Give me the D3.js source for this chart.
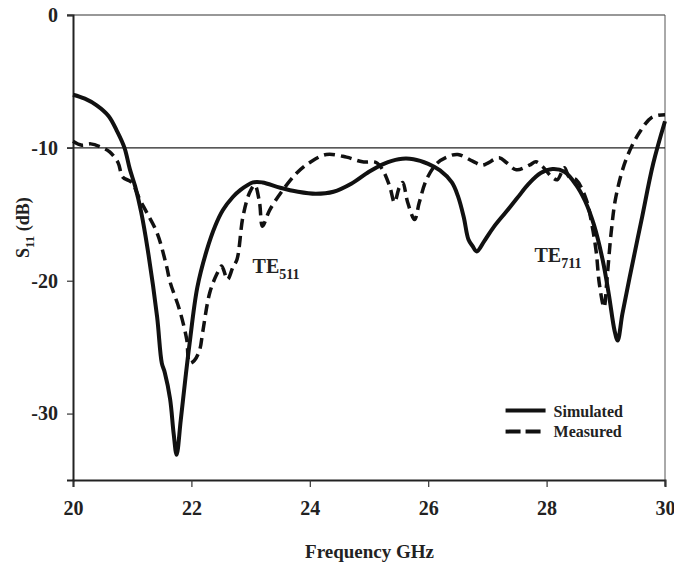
<!DOCTYPE html>
<html>
<head>
<meta charset="utf-8">
<script src="https://cdn.jsdelivr.net/npm/d3@7"></script>
<style>
  body { margin: 0; background: #fff; }
  text { font-family: "Liberation Serif", "Times New Roman", serif; font-weight: bold; fill: #222; }
</style>
</head>
<body>
<div id="chart-area"></div>
<script>
// S11 vs frequency, simulated and measured

const svgWidth = 674;
const svgHeight = 567;
var margin = {left: 73, right: 8, top: 15, bottom: 87};

var chartWidth = svgWidth - margin.left - margin.right,
    chartHeight = svgHeight - margin.top - margin.bottom;

// data (GHz, dB)
var simFreq = [20.0, 20.2, 20.4, 20.6, 20.75, 20.87, 20.96, 21.05, 21.15, 21.26, 21.42, 21.5, 21.55, 21.64, 21.7, 21.75,
    21.82, 21.9, 21.97, 22.1, 22.26, 22.4, 22.53, 22.7, 22.82, 23.04, 23.2, 23.5, 23.8, 24.1, 24.4, 24.7, 25.0, 25.25,
    25.5, 25.75, 26.0, 26.2, 26.4, 26.5, 26.6, 26.68, 26.75, 26.82, 26.95, 27.1, 27.3, 27.5, 27.7, 27.9,
    28.1, 28.3, 28.5, 28.65, 28.8, 28.95, 29.05, 29.15, 29.2, 29.28, 29.4, 29.6, 29.8, 30.0];
var simS11 = [-6.0, -6.3, -6.8, -7.6, -8.8, -10.0, -11.6, -12.9, -14.8, -17.6, -22.7, -26.2, -26.9, -28.9, -31.5, -33.1,
    -30.5, -27.3, -24.7, -20.5, -17.7, -15.9, -14.7, -13.7, -13.2, -12.6, -12.6, -13.0, -13.3, -13.45, -13.3, -12.7, -11.8, -11.2,
    -10.85, -10.85, -11.2, -11.7, -12.6, -13.6, -15.2, -16.9, -17.4, -17.8, -17.0, -16.0, -14.9, -13.8, -12.7, -11.9,
    -11.6, -11.8, -12.8, -14.0, -15.8, -18.5, -21.0, -23.8, -24.5, -22.5, -19.8, -15.5, -11.2, -8.0];

var measFreq = [20.0, 20.15, 20.3, 20.5, 20.62, 20.76, 20.84, 20.99, 21.13, 21.25, 21.42, 21.58, 21.64, 21.8,
    21.92, 21.97, 22.05, 22.14, 22.19, 22.31, 22.43, 22.51, 22.61, 22.7, 22.77, 22.87, 22.98, 23.07, 23.15, 23.2, 23.32,
    23.54, 23.78, 24.0, 24.28, 24.62, 24.89, 25.12, 25.23, 25.35, 25.43, 25.51, 25.57, 25.65, 25.77, 25.85,
    25.97, 26.14, 26.31, 26.5, 26.75, 26.91, 27.2, 27.32, 27.49, 27.71, 27.82, 27.93, 28.09, 28.18, 28.3,
    28.38, 28.5, 28.67, 28.77, 28.84, 28.89, 28.97, 29.02, 29.09, 29.17, 29.34, 29.56, 29.78, 30.0];
var measS11 = [-9.5, -9.8, -9.7, -10.0, -10.3, -11.1, -12.2, -12.6, -13.9, -14.9, -16.4, -18.9, -20.1, -22.2,
    -24.4, -26.2, -26.0, -25.2, -23.9, -20.9, -19.5, -18.9, -19.9, -19.0, -18.4, -15.2, -13.4, -12.8, -14.1, -15.9, -14.7,
    -13.2, -11.9, -11.1, -10.5, -10.7, -11.05, -11.1, -11.65, -12.9, -14.1, -13.0, -12.6, -14.05, -15.4, -14.1,
    -12.4, -11.2, -10.7, -10.5, -11.0, -11.3, -10.75, -11.1, -11.65, -11.3, -11.05, -11.4, -12.2, -12.4, -11.5,
    -12.2, -12.4, -13.9, -15.9, -17.9, -20.2, -22.0, -19.9, -16.4, -13.7, -10.9, -8.9, -7.7, -7.5];

var xTicks = [20, 22, 24, 26, 28, 30];
var yTicks = [0, -10, -20, -30];
var refLevel = -10;

var simulated = simFreq.map(function(f, i){ return {f: f, s: simS11[i]}; });
var measured = measFreq.map(function(f, i){ return {f: f, s: measS11[i]}; });

var svg = d3.select("#chart-area")
    .append("svg")
        .attr("width", svgWidth)
        .attr("height", svgHeight)
    .append("g")
    .attr("transform", "translate(" + margin.left + "," + margin.top + ")");

var x = d3.scaleLinear()
    .domain([20, 30])
    .range([0, chartWidth - 1]);

var y = d3.scaleLinear()
    .domain([-35, 0])
    .range([chartHeight, 0]);

// top and right frame lines
svg.append("line")
    .attr("x1", -6).attr("x2", x(30))
    .attr("y1", y(0)).attr("y2", y(0))
    .attr("stroke", "#333").attr("stroke-width", 1.2);
svg.append("line")
    .attr("x1", x(30)).attr("x2", x(30))
    .attr("y1", y(0)).attr("y2", chartHeight + 6)
    .attr("stroke", "#555").attr("stroke-width", 1);

// -10 dB reference
svg.append("line")
    .attr("x1", -6).attr("x2", x(30))
    .attr("y1", y(refLevel)).attr("y2", y(refLevel))
    .attr("stroke", "#222").attr("stroke-width", 1.4);

// axes (plain hyphen for minus, like the original)
var xAxisCall = d3.axisBottom(x)
    .tickValues(xTicks)
    .tickSize(7)
    .tickPadding(14)
    .tickFormat(function(d){ return String(d); });
var xAxis = svg.append("g")
    .attr("class", "x axis")
    .attr("transform", "translate(0," + chartHeight + ")")
    .call(xAxisCall);

var yAxisCall = d3.axisLeft(y)
    .tickValues(yTicks)
    .tickSize(6)
    .tickPadding(9)
    .tickFormat(function(d){ return String(d); });
var yAxis = svg.append("g")
    .attr("class", "y axis")
    .call(yAxisCall);

[xAxis, yAxis].forEach(function(g){
    g.select(".domain").attr("stroke", "#222").attr("stroke-width", 2);
    g.selectAll(".tick line").attr("stroke", "#333").attr("stroke-width", 1.2);
    g.selectAll(".tick text")
        .attr("font-family", "Liberation Serif, serif")
        .attr("font-weight", "bold")
        .attr("font-size", "20px")
        .attr("fill", "#222");
});

// curves
var line = d3.line()
    .x(function(d){ return x(d.f); })
    .y(function(d){ return y(d.s); })
    .curve(d3.curveCatmullRom.alpha(0.5));

svg.append("path")
    .datum(simulated)
    .attr("fill", "none")
    .attr("stroke", "#111")
    .attr("stroke-width", 4)
    .attr("stroke-linejoin", "round")
    .attr("d", line);

svg.append("path")
    .datum(measured)
    .attr("fill", "none")
    .attr("stroke", "#111")
    .attr("stroke-width", 3.5)
    .attr("stroke-dasharray", "11,6")
    .attr("stroke-linejoin", "round")
    .attr("d", line);

// mode labels
function modeLabel(px, py, sub) {
    var t = svg.append("text")
        .attr("x", px)
        .attr("y", py)
        .attr("font-size", "20px");
    t.append("tspan").text("TE");
    t.append("tspan").attr("dy", 6).attr("font-size", "14px").text(sub);
}
modeLabel(x(23.0) + 2, y(-19.4), "511");
modeLabel(x(27.83) - 2, y(-18.6), "711");

// legend
var legend = svg.append("g")
    .attr("transform", "translate(" + x(29.3) + "," + y(-30) + ")");
legend.append("line")
    .attr("x1", -118).attr("x2", -78).attr("y1", -3).attr("y2", -3)
    .attr("stroke", "#111").attr("stroke-width", 4);
legend.append("line")
    .attr("x1", -118).attr("x2", -78).attr("y1", 18).attr("y2", 18)
    .attr("stroke", "#111").attr("stroke-width", 4)
    .attr("stroke-dasharray", "15,5");
legend.append("text")
    .attr("x", -70).attr("y", 3)
    .attr("font-size", "16px")
    .text("Simulated");
legend.append("text")
    .attr("x", -70).attr("y", 23)
    .attr("font-size", "16px")
    .text("Measured");

// x label
svg.append("text")
    .attr("x", chartWidth / 2)
    .attr("y", chartHeight + 78)
    .attr("font-size", "19px")
    .attr("text-anchor", "middle")
    .text("Frequency GHz");

// y label
var yLab = svg.append("text")
    .attr("x", -243)
    .attr("y", -44)
    .attr("font-size", "18px")
    .attr("text-anchor", "start")
    .attr("transform", "rotate(-90)");
yLab.append("tspan").text("S");
yLab.append("tspan").attr("dy", 5).attr("font-size", "13px").text("11");
yLab.append("tspan").attr("dy", -5).text(" (dB)");
</script>
</body>
</html>
